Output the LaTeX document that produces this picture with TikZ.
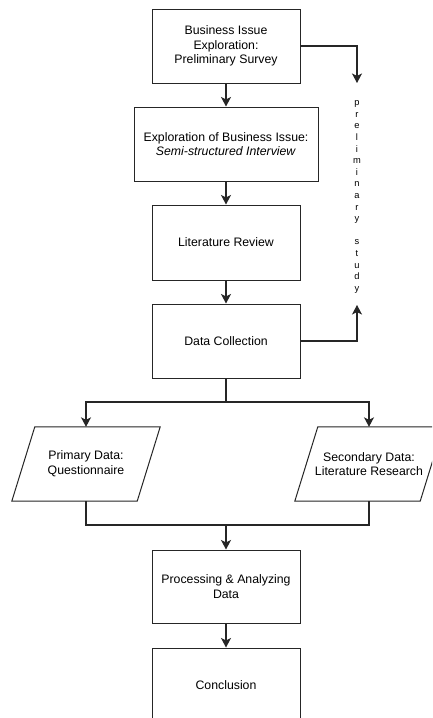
\documentclass[tikz,border=0pt]{standalone}
\usepackage{fontspec}
\setmainfont{Liberation Sans}
\usetikzlibrary{arrows.meta}
\begin{document}
\begin{tikzpicture}[x=1pt,y=-1pt,
  box/.style={draw=black!85,line width=1pt,minimum width=148pt,minimum height=74pt,inner sep=0pt,align=center,font=\fontsize{12.3}{14.7}\selectfont},
  para/.style={minimum width=148pt,minimum height=74pt,inner sep=0pt,align=center,font=\fontsize{12.3}{14.7}\selectfont},
  pline/.style={draw=black!85,line width=1pt},
  conn/.style={draw=black!85,line width=1.1pt},
  arr/.style={conn,-{Stealth[length=9.5pt,width=10pt,inset=2.5pt]}},
  vtext/.style={align=center,inner sep=0pt,font=\fontsize{9.3}{11.6}\selectfont}]
\useasboundingbox (0,0) rectangle (432,718);
\clip (0,0) rectangle (432,718);
\fill[white] (0,0) rectangle (432,718);

\node[box] (b1) at (226,46) {Business Issue\\Exploration:\\Preliminary Survey};
\node[box,minimum width=184pt] (b2) at (226,144) {Exploration of Business Issue:\\\textit{Semi-structured Interview}};
\node[box,minimum height=75pt] (b3) at (226,242.5) {Literature Review};
\node[box] (b4) at (226,341) {Data Collection};
\node[para] (p1) at (86,464) {Primary Data:\\Questionnaire};
\node[para] (p2) at (369,464) {Secondary Data:\\Literature Research};
\node[box,minimum height=73pt] (b5) at (226,586.5) {Processing \& Analyzing\\Data};
\node[box] (b6) at (226,685) {Conclusion};

\draw[pline] ([xshift=23pt]p1.north west) -- (p1.north east) -- ([xshift=-23pt]p1.south east) -- (p1.south west) -- cycle;
\draw[pline] ([xshift=23pt]p2.north west) -- (p2.north east) -- ([xshift=-23pt]p2.south east) -- (p2.south west) -- cycle;

\node[vtext] (vt) at (357,197) {p\\r\\e\\l\\i\\m\\i\\n\\a\\r\\y\\[11.6pt]s\\t\\u\\d\\y};

\coordinate (t1) at (357,83);
\coordinate (t2) at (357,305);
\coordinate (s1) at (226,402);
\coordinate (m) at (226,525);

\draw[arr] (b1) -- (b2);
\draw[arr] (b2) -- (b3);
\draw[arr] (b3) -- (b4);
\draw[arr] (b1.east) -| (t1);
\draw[arr] (b4.east) -| (t2);
\draw[conn] (b4) -- (s1);
\draw[arr] (s1) -| (p1.north);
\draw[arr] (s1) -| (p2.north);
\draw[conn] (p1.south) |- (m) -| (p2.south);
\draw[arr] (m) -- (b5);
\draw[arr] (b5) -- (b6);
\end{tikzpicture}
\end{document}
